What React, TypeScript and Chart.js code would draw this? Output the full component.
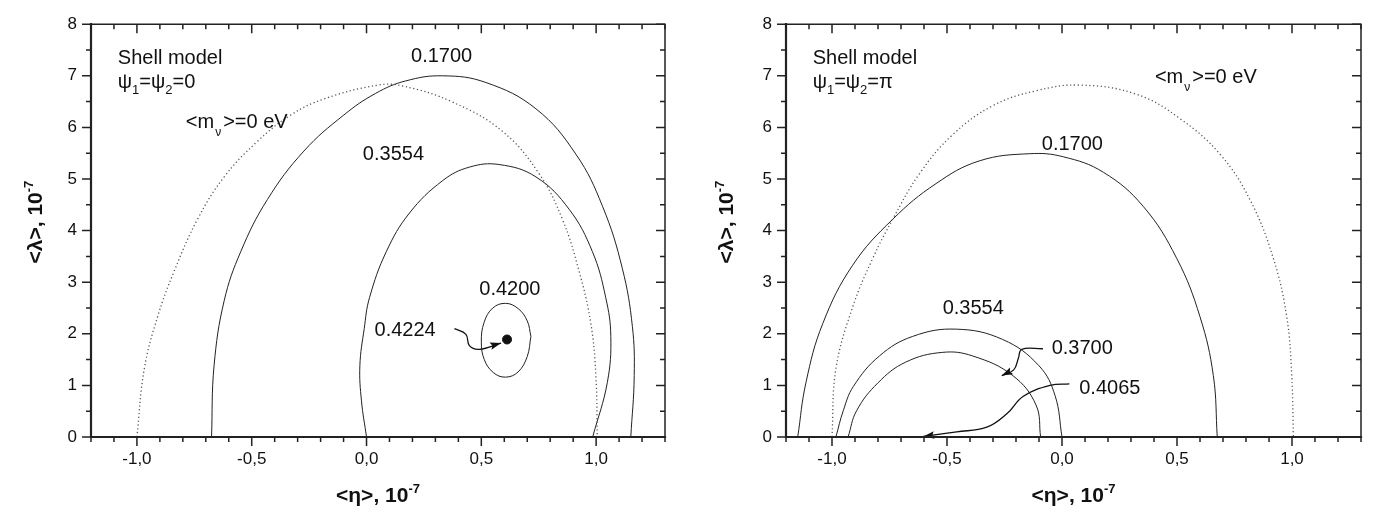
import { useEffect, useRef } from "react";
import { Chart, registerables } from "chart.js";
Chart.register(...registerables);

type Pt = [number, number];

// ---------- axes ----------
const X_MIN = -1.2;
const X_MAX = 1.3;
const Y_MIN = 0;
const Y_MAX = 8;
const xTickValues = [-1.0, -0.5, 0.0, 0.5, 1.0];
const yTickValues = [0, 1, 2, 3, 4, 5, 6, 7, 8];

// ---------- left panel: psi1 = psi2 = 0 ----------
const leftMassZero: Pt[] = [
  [-1.0, 0], [-0.968, 1.32], [-0.91, 2.33], [-0.838, 3.21], [-0.736, 4.22], [-0.62, 5.04],
  [-0.475, 5.73], [-0.33, 6.24], [-0.186, 6.55], [0.05, 6.82], [0.16, 6.8], [0.375, 6.49],
  [0.593, 5.92], [0.752, 5.1], [0.853, 4.22], [0.926, 3.21], [0.977, 2.2], [0.999, 1.19], [1.005, 0],
];
const left1700: Pt[] = [
  [-0.675, 0], [-0.664, 1.38], [-0.62, 2.64], [-0.548, 3.59], [-0.432, 4.6], [-0.273, 5.54],
  [-0.099, 6.24], [0.04, 6.66], [0.17, 6.9], [0.332, 7.0], [0.52, 6.87], [0.738, 6.36],
  [0.912, 5.48], [1.028, 4.47], [1.114, 3.27], [1.158, 2.14], [1.166, 1.19], [1.151, 0],
];
const left3554: Pt[] = [
  [0.0, 0], [-0.022, 0.7], [-0.029, 1.38], [-0.01, 2.1], [0.013, 2.7], [0.086, 3.59], [0.187, 4.34],
  [0.332, 4.97], [0.448, 5.23], [0.578, 5.28], [0.738, 5.04], [0.883, 4.41], [0.984, 3.59],
  [1.042, 2.7], [1.064, 1.95], [1.049, 1.06], [0.985, 0],
];
const left4200: Pt[] = [
  [0.716, 1.95], [0.7, 2.25], [0.66, 2.49], [0.606, 2.59], [0.55, 2.5], [0.512, 2.22], [0.5, 1.84],
  [0.513, 1.5], [0.552, 1.25], [0.605, 1.16], [0.66, 1.26], [0.7, 1.56], [0.716, 1.95],
];
const left4224: Pt[] = [[0.612, 1.89]];
const left4224Arrow: Pt[] = [[0.383, 2.1], [0.433, 1.99], [0.448, 1.77], [0.491, 1.7], [0.586, 1.82]];

// ---------- right panel: psi1 = psi2 = pi ----------
const rightMassZero: Pt[] = [
  [-1.0, 0], [-0.983, 1.32], [-0.91, 2.52], [-0.823, 3.46], [-0.736, 4.22], [-0.62, 5.1],
  [-0.475, 5.86], [-0.301, 6.42], [-0.113, 6.71], [0.08, 6.82], [0.325, 6.64], [0.513, 6.17],
  [0.687, 5.48], [0.817, 4.6], [0.919, 3.46], [0.977, 2.33], [0.999, 1.19], [1.006, 0],
];
const right1700: Pt[] = [
  [-1.149, 0], [-1.113, 1.06], [-1.04, 2.2], [-0.91, 3.33], [-0.736, 4.22], [-0.548, 4.91],
  [-0.36, 5.35], [-0.14, 5.49], [0.006, 5.43], [0.18, 5.13], [0.353, 4.47], [0.499, 3.46],
  [0.6, 2.33], [0.658, 1.19], [0.675, 0],
];
const right3554: Pt[] = [
  [-0.983, 0], [-0.951, 0.51], [-0.907, 0.98], [-0.794, 1.57], [-0.649, 1.95], [-0.46, 2.09],
  [-0.258, 1.89], [-0.1, 1.38], [-0.03, 0.8], [0.0, 0],
];
const right3700: Pt[] = [
  [-0.93, 0], [-0.893, 0.51], [-0.8, 1.05], [-0.68, 1.45], [-0.52, 1.64], [-0.388, 1.57],
  [-0.214, 1.19], [-0.113, 0.62], [-0.093, 0],
];
const right3700Arrow: Pt[] = [[-0.083, 1.71], [-0.175, 1.7], [-0.19, 1.52], [-0.21, 1.3], [-0.262, 1.19]];
const right4065Arrow: Pt[] = [
  [0.032, 1.03], [-0.052, 1.0], [-0.168, 0.79], [-0.24, 0.45], [-0.327, 0.19], [-0.458, 0.1], [-0.603, 0.01],
];

// ---------- styling ----------
const FONT = "'Liberation Sans', Arial, sans-serif";
const INK = "#111";
const CURVE = "#222";

type Seg = { t: string; size: number; dy?: number; dx?: number; bold?: boolean };
type Label = { segs: Seg[]; x: number; y: number };

const txt = (t: string): Seg[] => [{ t, size: 20 }];
const psiLabel = (v: string): Seg[] => [
  { t: "ψ", size: 20 }, { t: "1", size: 13, dy: 6 }, { t: "=ψ", size: 20 }, { t: "2", size: 13, dy: 6 }, { t: "=" + v, size: 20 },
];
const massLabel: Seg[] = [
  { t: "<m", size: 20 }, { t: "ν", size: 12, dy: 8, dx: 1 }, { t: ">=0 eV", size: 20, dx: 2 },
];

const leftLabels: Label[] = [
  { segs: txt("Shell model"), x: -1.083, y: 7.23 },
  { segs: psiLabel("0"), x: -1.083, y: 6.76 },
  { segs: massLabel, x: -0.787, y: 5.99 },
  { segs: txt("0.1700"), x: 0.194, y: 7.26 },
  { segs: txt("0.3554"), x: -0.016, y: 5.37 },
  { segs: txt("0.4200"), x: 0.491, y: 2.75 },
  { segs: txt("0.4224"), x: 0.035, y: 1.96 },
];
const rightLabels: Label[] = [
  { segs: txt("Shell model"), x: -1.084, y: 7.23 },
  { segs: psiLabel("π"), x: -1.084, y: 6.76 },
  { segs: massLabel, x: 0.404, y: 6.87 },
  { segs: txt("0.1700"), x: -0.088, y: 5.57 },
  { segs: txt("0.3554"), x: -0.519, y: 2.38 },
  { segs: txt("0.3700"), x: -0.045, y: 1.61 },
  { segs: txt("0.4065"), x: 0.075, y: 0.83 },
];

const fontOf = (s: Seg) => `${s.bold ? "bold " : ""}${s.size}px ${FONT}`;

function richWidth(ctx: CanvasRenderingContext2D, segs: Seg[]) {
  let w = 0;
  for (const s of segs) {
    ctx.font = fontOf(s);
    w += ctx.measureText(s.t).width + (s.dx || 0);
  }
  return w;
}
function drawRich(ctx: CanvasRenderingContext2D, x: number, y: number, segs: Seg[]) {
  let cx = x;
  for (const s of segs) {
    ctx.font = fontOf(s);
    cx += s.dx || 0;
    ctx.fillText(s.t, cx, y + (s.dy || 0));
    cx += ctx.measureText(s.t).width;
  }
}

const xTitle: Seg[] = [{ t: "<η>, 10", size: 21, bold: true }, { t: "-7", size: 13, bold: true, dy: -9 }];
const yTitle: Seg[] = [{ t: "<λ>, 10", size: 21, bold: true }, { t: "-7", size: 13, bold: true, dy: -9 }];

type Panel = { yAxisWidth: number; padRight: number; yTitleOffset: number; labels: Label[] };

function overlayPlugin(panel: Panel) {
  return {
    id: "overlay",
    afterDatasetsDraw(chart: any) {
      const ctx: CanvasRenderingContext2D = chart.ctx;
      const xs = chart.scales.x;
      const ys = chart.scales.y;
      const { left, right, top, bottom } = chart.chartArea;
      ctx.save();

      // arrowheads
      chart.data.datasets.forEach((ds: any, i: number) => {
        if (!ds.arrowHead) return;
        const pts = chart.getDatasetMeta(i).data;
        const a = pts[pts.length - 2];
        const b = pts[pts.length - 1];
        const ang = Math.atan2(b.y - a.y, b.x - a.x);
        const L = 11, W = 3.8;
        const c = Math.cos(ang), s = Math.sin(ang);
        const bx = b.x - L * c, by = b.y - L * s;
        ctx.beginPath();
        ctx.moveTo(b.x, b.y);
        ctx.lineTo(bx - W * s, by + W * c);
        ctx.lineTo(bx + 2 * c, by + 2 * s);
        ctx.lineTo(bx + W * s, by - W * c);
        ctx.closePath();
        ctx.fillStyle = INK;
        ctx.fill();
      });

      // frame
      ctx.strokeStyle = "#222";
      ctx.lineCap = "square";
      ctx.lineWidth = 1.5;
      ctx.beginPath();
      ctx.moveTo(left, top);
      ctx.lineTo(right, top);
      ctx.lineTo(right, bottom);
      ctx.stroke();
      ctx.lineWidth = 2.2;
      ctx.beginPath();
      ctx.moveTo(left, top);
      ctx.lineTo(left, bottom);
      ctx.lineTo(right, bottom);
      ctx.stroke();

      // ticks
      ctx.lineCap = "butt";
      ctx.lineWidth = 1.5;
      const isMajor = (v: number, step: number) => Math.abs(v / step - Math.round(v / step)) < 1e-6;
      for (let k = 0; k <= 25; k++) {
        const v = X_MIN + k * 0.1;
        const px = xs.getPixelForValue(v);
        const len = isMajor(v, 0.5) ? 9 : 5;
        ctx.beginPath();
        ctx.moveTo(px, bottom);
        ctx.lineTo(px, bottom + len);
        ctx.moveTo(px, top);
        ctx.lineTo(px, top + len);
        ctx.stroke();
      }
      for (let k = 0; k <= 16; k++) {
        const v = Y_MIN + k * 0.5;
        const py = ys.getPixelForValue(v);
        const len = isMajor(v, 1) ? 9 : 5;
        ctx.beginPath();
        ctx.moveTo(left, py);
        ctx.lineTo(left - len, py);
        ctx.moveTo(right, py);
        ctx.lineTo(right - len, py);
        ctx.stroke();
      }

      // in-plot labels
      ctx.fillStyle = INK;
      ctx.textBaseline = "alphabetic";
      ctx.textAlign = "left";
      for (const lb of panel.labels) {
        drawRich(ctx, xs.getPixelForValue(lb.x), ys.getPixelForValue(lb.y), lb.segs);
      }

      // axis titles
      const xw = richWidth(ctx, xTitle);
      drawRich(ctx, (left + right) / 2 - xw / 2, 502, xTitle);
      const yw = richWidth(ctx, yTitle);
      ctx.translate(left - panel.yTitleOffset, (top + bottom) / 2 - 8.5);
      ctx.rotate(-Math.PI / 2);
      drawRich(ctx, -yw / 2, 0, yTitle);

      ctx.restore();
    },
  };
}

const line = (data: Pt[], dotted = false) => ({
  data: data.map(([x, y]) => ({ x, y })),
  showLine: true,
  pointRadius: 0,
  borderColor: dotted ? "#555" : CURVE,
  borderWidth: dotted ? 1.3 : 1,
  borderDash: dotted ? [1.2, 2.6] : [],
  tension: 0.4,
  fill: false,
});
const arrow = (data: Pt[]) => ({ ...line(data), borderColor: INK, borderWidth: 1.3, arrowHead: true });
const dot = (data: Pt[]) => ({
  data: data.map(([x, y]) => ({ x, y })),
  showLine: false,
  pointRadius: 4.5,
  pointBackgroundColor: INK,
  pointBorderColor: INK,
});

function makeConfig(datasets: any[], panel: Panel): any {
  return {
    type: "scatter",
    data: { datasets },
    options: {
      responsive: false,
      animation: false,
      devicePixelRatio: 1,
      layout: { padding: { left: 0, top: 14, right: panel.padRight, bottom: 0 } },
      plugins: { legend: { display: false }, tooltip: { enabled: false } },
      events: [],
      scales: {
        x: {
          type: "linear",
          min: X_MIN,
          max: X_MAX,
          afterBuildTicks: (s: any) => {
            s.ticks = xTickValues.map((value) => ({ value }));
          },
          afterFit: (s: any) => {
            s.height = 78;
          },
          ticks: {
            autoSkip: false,
            maxRotation: 0,
            padding: 12,
            color: INK,
            font: { family: FONT, size: 17 },
            callback: (v: number) => Number(v).toFixed(1).replace(".", ","),
          },
          grid: { display: false, drawTicks: false },
          border: { display: false },
        },
        y: {
          type: "linear",
          min: Y_MIN,
          max: Y_MAX,
          afterBuildTicks: (s: any) => {
            s.ticks = yTickValues.map((value) => ({ value }));
          },
          afterFit: (s: any) => {
            s.width = panel.yAxisWidth;
          },
          ticks: {
            autoSkip: false,
            padding: 14,
            color: INK,
            font: { family: FONT, size: 17 },
            callback: (v: number) => String(v),
          },
          grid: { display: false, drawTicks: false },
          border: { display: false },
        },
      },
    },
    plugins: [overlayPlugin(panel)],
  };
}

const leftPanel: Panel = { yAxisWidth: 91, padRight: 23, yTitleOffset: 49, labels: leftLabels };
const rightPanel: Panel = { yAxisWidth: 98, padRight: 14, yTitleOffset: 53, labels: rightLabels };

export default function App() {
  const leftRef = useRef<HTMLCanvasElement>(null);
  const rightRef = useRef<HTMLCanvasElement>(null);

  useEffect(() => {
    const c1 = new Chart(
      leftRef.current as HTMLCanvasElement,
      makeConfig(
        [
          line(leftMassZero, true),
          line(left1700),
          line(left3554),
          line(left4200),
          dot(left4224),
          arrow(left4224Arrow),
        ],
        leftPanel
      )
    );
    const c2 = new Chart(
      rightRef.current as HTMLCanvasElement,
      makeConfig(
        [
          line(rightMassZero, true),
          line(right1700),
          line(right3554),
          line(right3700),
          arrow(right3700Arrow),
          arrow(right4065Arrow),
        ],
        rightPanel
      )
    );
    return () => {
      c1.destroy();
      c2.destroy();
    };
  }, []);

  return (
    <div style={{ position: "fixed", left: 0, top: 0, width: 1375, height: 515, background: "#fff" }}>
      <canvas ref={leftRef} width={688} height={515} style={{ position: "absolute", left: 0, top: 0, width: 688, height: 515 }} />
      <canvas ref={rightRef} width={687} height={515} style={{ position: "absolute", left: 688, top: 0, width: 687, height: 515 }} />
    </div>
  );
}
